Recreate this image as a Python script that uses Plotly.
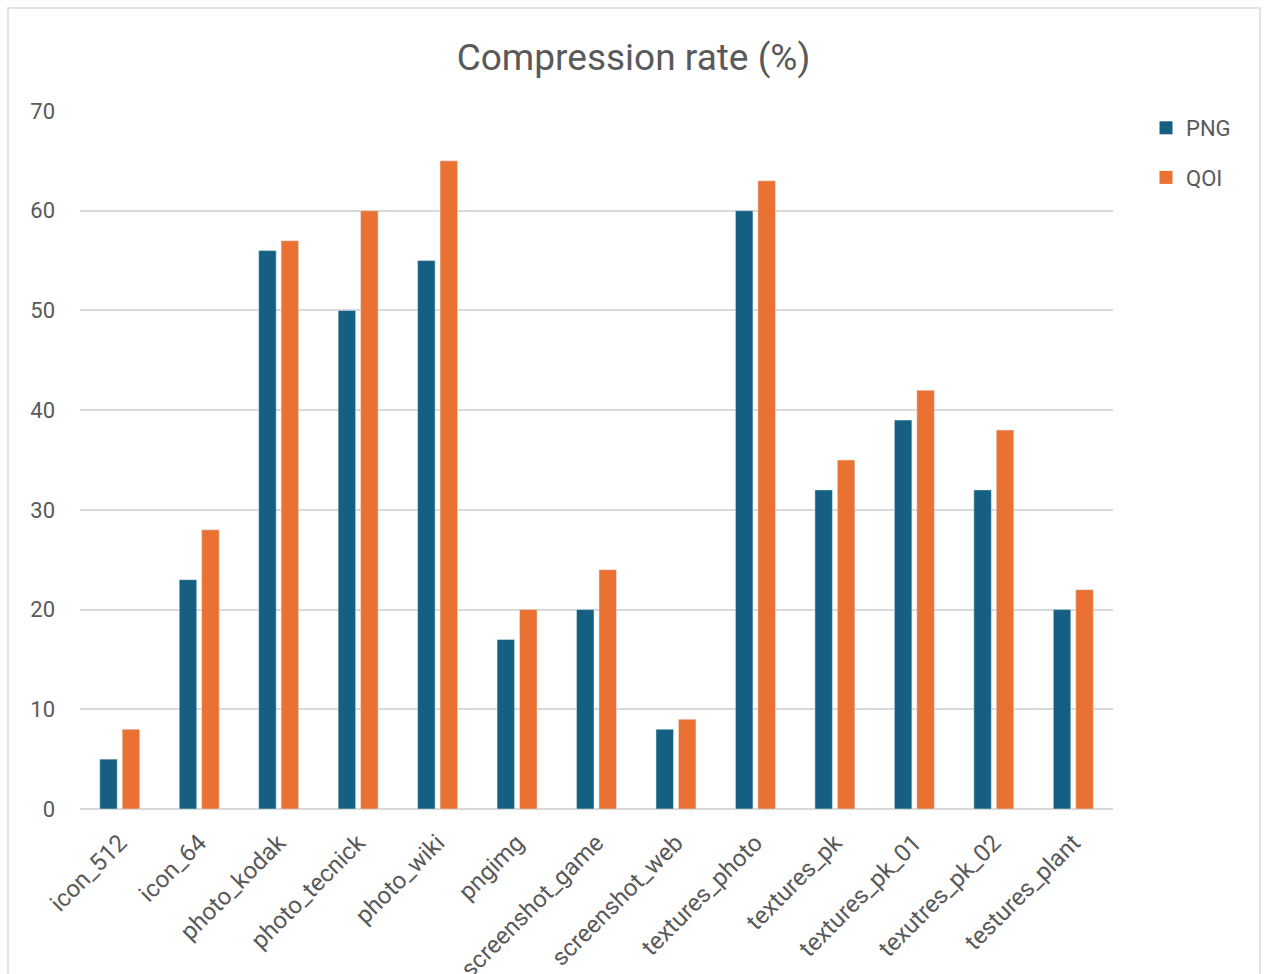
import plotly.graph_objects as go

categories = ["icon_512", "icon_64", "photo_kodak", "photo_tecnick", "photo_wiki",
              "pngimg", "screenshot_game", "screenshot_web", "textures_photo",
              "textures_pk", "textures_pk_01", "texutres_pk_02", "testures_plant"]
png_rate = [5, 23, 56, 50, 55, 17, 20, 8, 60, 32, 39, 32, 20]
qoi_rate = [8, 28, 57, 60, 65, 20, 24, 9, 63, 35, 42, 38, 22]
y_ticks = [0, 10, 20, 30, 40, 50, 60, 70]
series_names = ["PNG", "QOI"]
series_colors = ["#156082", "#E97132"]

FONT = "Roboto"
GREY = "#595959"
LINE = "#d9d9d9"

fig = go.Figure()
for name, vals, col in zip(series_names, [png_rate, qoi_rate], series_colors):
    fig.add_trace(go.Bar(name=name, x=categories, y=vals, marker_color=col,
                         showlegend=False))
# legend entries with square swatches
for i, (name, col) in enumerate(zip(series_names, series_colors)):
    fig.add_trace(go.Scatter(name=name, x=[None], y=[None], mode="markers",
                             marker=dict(symbol="square", size=13, color=col),
                             legendgroup=f"g{i}"))

# outer chart border
L, R, T, B = 80, 1113, 111, 809
W, H = R - L, B - T
fig.add_shape(type="rect", xref="paper", yref="paper",
              x0=(8 - L) / W, x1=(1260 - L) / W,
              y0=(B - 1000) / H, y1=(B - 8) / H,
              line=dict(color=LINE, width=1.5), fillcolor="rgba(0,0,0,0)", layer="below")

fig.update_layout(
    width=1267, height=974,
    margin=dict(l=L, r=1267 - R, t=T, b=974 - B, autoexpand=False),
    paper_bgcolor="white", plot_bgcolor="white",
    font=dict(family=FONT, color=GREY, size=22),
    title=dict(text="Compression rate (%)", x=0.5, xref="container", xanchor="center",
               y=1 - 57 / 974, yref="container", yanchor="middle",
               font=dict(size=37, color=GREY, family=FONT)),
    barmode="group", bargap=0.435, bargroupgap=0.22,
    legend=dict(x=(1146 - L) / W, y=(B - 107) / H, xanchor="left", yanchor="top",
                font=dict(size=22, color=GREY), tracegroupgap=18,
                itemwidth=30, bgcolor="rgba(0,0,0,0)"),
    showlegend=True,
)
fig.update_xaxes(tickangle=-45, showgrid=False, showline=False, ticks="",
                 ticklabelstandoff=14,
                 tickfont=dict(size=24, color=GREY), automargin=False)
fig.update_yaxes(range=[0, 70], tickvals=y_ticks, showgrid=True, gridcolor=LINE,
                 gridwidth=1.5, zeroline=True, zerolinecolor=LINE, zerolinewidth=1.5,
                 showline=False, ticks="", ticklabelstandoff=24,
                 tickfont=dict(size=22, color=GREY), automargin=False)

fig.write_html("out.html")
